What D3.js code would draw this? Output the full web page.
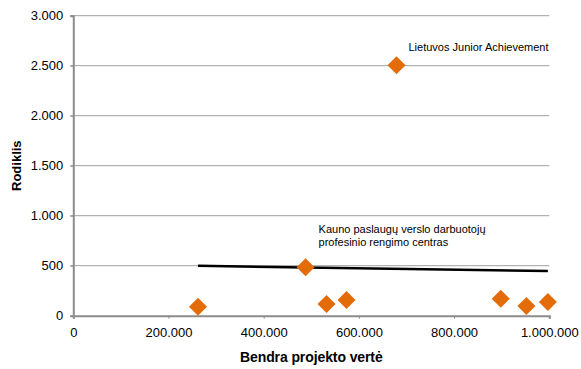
<!DOCTYPE html>
<html><head><meta charset="utf-8">
<script src="https://cdn.jsdelivr.net/npm/d3@7"></script>
<style>body{margin:0;background:#fff}svg{display:block}text{font-family:"Liberation Sans",Arial,sans-serif}</style>
</head><body><svg id="c" width="581" height="369"></svg>
<script>
const xValues = [262000, 488000, 532000, 574000, 679000, 898000, 952000, 997000];
const yValues = [90, 484, 117, 157, 2505, 170, 97, 137];
const xTicks = [0, 200000, 400000, 600000, 800000, 1000000];
const yTicks = [0, 500, 1000, 1500, 2000, 2500, 3000];
const labels = [
  {x: 679000, y: 2505, lines: ["Lietuvos Junior Achievement"], dx: 12, dy: -14},
  {x: 488000, y: 484, lines: ["Kauno paslaugų verslo darbuotojų", "profesinio rengimo centras"], dx: 13, dy: -34}
];
const xTitle = "Bendra projekto vertė";
const yTitle = "Rodiklis";

const svg = d3.select("#c");
const x = d3.scaleLinear().domain([0, 1000000]).range([73.3, 549.3]);
const y = d3.scaleLinear().domain([0, 3000]).range([315.7, 15.7]);
const fmt = v => d3.format(",")(v).replace(/,/g, ".");

// gridlines
svg.append("g").selectAll("line").data(yTicks.filter(d => d > 0)).join("line")
  .attr("x1", x(0) - 3).attr("x2", x(1000000))
  .attr("y1", d => y(d)).attr("y2", d => y(d))
  .attr("stroke", "#a0a0a0").attr("stroke-width", 1);

// y axis
const ya = svg.append("g").attr("transform", `translate(${x(0)},0)`)
  .call(d3.axisLeft(y).tickValues(yTicks).tickFormat(fmt).tickSize(3).tickPadding(7));
ya.select(".domain").attr("stroke", "#8c8c8c").attr("stroke-width", 2);
ya.selectAll(".tick line").attr("stroke", "#8c8c8c");
ya.selectAll("text").attr("font-size", 13).attr("fill", "#000").attr("font-family", "Liberation Sans, Arial, sans-serif");

// x axis
const xa = svg.append("g").attr("transform", `translate(0,${y(0)})`)
  .call(d3.axisBottom(x).tickValues(xTicks).tickFormat(fmt).tickSize(3).tickPadding(9));
xa.select(".domain").attr("stroke", "#8c8c8c").attr("stroke-width", 2);
xa.selectAll(".tick line").attr("stroke", "#8c8c8c");
xa.selectAll("text").attr("font-size", 13).attr("fill", "#000").attr("font-family", "Liberation Sans, Arial, sans-serif");

// trendline (linear regression)
const n = xValues.length;
const mx = d3.mean(xValues), my = d3.mean(yValues);
let sxy = 0, sxx = 0;
for (let i = 0; i < n; i++) { sxy += (xValues[i]-mx)*(yValues[i]-my); sxx += (xValues[i]-mx)**2; }
const slope = sxy / sxx, icpt = my - slope * mx;
const [x0, x1] = d3.extent(xValues);
svg.append("line")
  .attr("x1", x(x0)).attr("y1", y(icpt + slope * x0))
  .attr("x2", x(x1)).attr("y2", y(icpt + slope * x1))
  .attr("stroke", "#000").attr("stroke-width", 2.5);

// markers
const pts = xValues.map((v, i) => ({x: v, y: yValues[i]}));
svg.append("g").selectAll("path").data(pts).join("path")
  .attr("transform", d => `translate(${x(d.x)},${y(d.y)})`)
  .attr("d", "M0,-9L9,0L0,9L-9,0Z")
  .attr("fill", "#e36c09");

// annotations
labels.forEach(l => {
  const t = svg.append("text").attr("font-size", 11).attr("fill", "#000");
  l.lines.forEach((s, i) => t.append("tspan").attr("x", x(l.x) + l.dx).attr("y", y(l.y) + l.dy + i * 12.5).text(s));
});

// titles
svg.append("text").attr("x", (x(0)+x(1000000))/2).attr("y", 362)
  .attr("text-anchor", "middle").attr("font-size", 14).attr("font-weight", "bold")
  .attr("letter-spacing", -0.1).text(xTitle);
svg.append("text").attr("transform", `translate(21,${(y(0)+y(3000))/2}) rotate(-90)`)
  .attr("text-anchor", "middle").attr("font-size", 13).attr("font-weight", "bold").text(yTitle);
</script></body></html>
